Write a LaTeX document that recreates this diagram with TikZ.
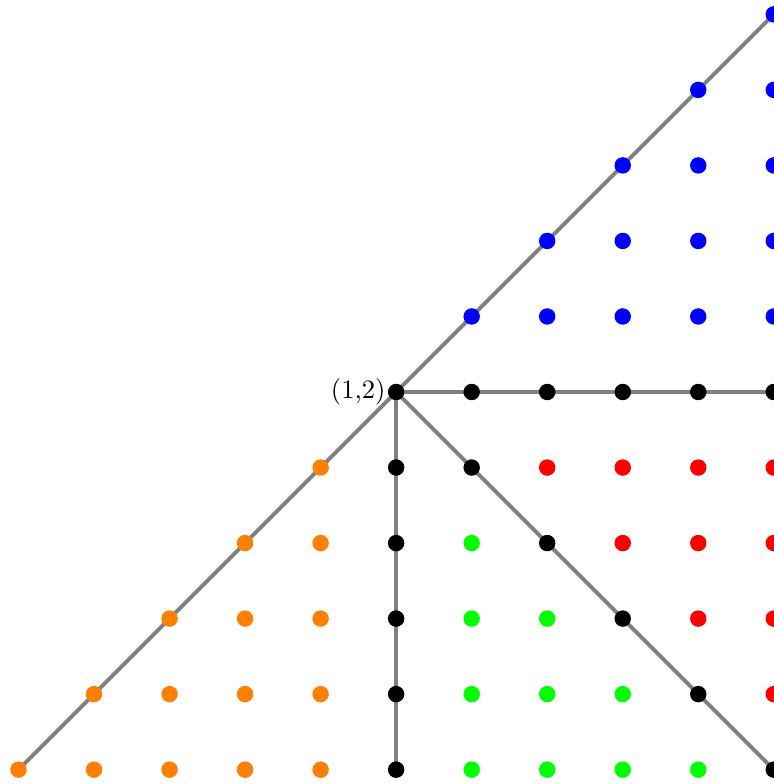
\documentclass[tikz,border=0pt]{standalone}
\usetikzlibrary{calc}
\tikzset{dot/.style={circle,fill,inner sep=0pt,minimum size=6.2pt},
  edge/.style={gray,line width=1.5pt}}
\begin{document}
\begin{tikzpicture}
	\useasboundingbox (-5.245,-5.19) rectangle (5,5.19);
	\clip (-5.245,-5.19) rectangle (5,5.19);
	\coordinate (V) at (0,0); \coordinate (LL) at (-5,-5);
	\coordinate (UR) at (5,5); \coordinate (R) at (5,0);
	\coordinate (D) at (0,-5); \coordinate (DR) at (5,-5);
	\draw[edge] (LL)--(UR); \draw[edge] (V)--(R);
	\draw[edge] (V)--(D); \draw[edge] (V)--(DR);
	\def\cnone{none}
	\foreach \x in {-5,...,5}{
		\foreach \y in {-5,...,5}{
			\def\c{none}
			\ifnum\y>0 \ifnum\x<\y\else\def\c{blue}\fi\fi
			\ifnum\y=0 \ifnum\x<0\else\def\c{black}\fi\fi
			\ifnum\y<0
				\ifnum\x<0 \ifnum\x<\y\else\def\c{orange}\fi\fi
				\ifnum\x=0 \def\c{black}\fi
				\ifnum\x>0
					\ifnum\x<-\y \def\c{green}\fi
					\ifnum\x=-\y \def\c{black}\fi
					\ifnum\x>-\y \def\c{red}\fi
				\fi
			\fi
			\ifx\c\cnone\else\node[dot,fill=\c] (p\x_\y) at (\x,\y) {};\fi
		}
	}
	\node[left,inner sep=0.5pt] (lab) at (p0_0.west) {(1,2)};
\end{tikzpicture}
\end{document}
